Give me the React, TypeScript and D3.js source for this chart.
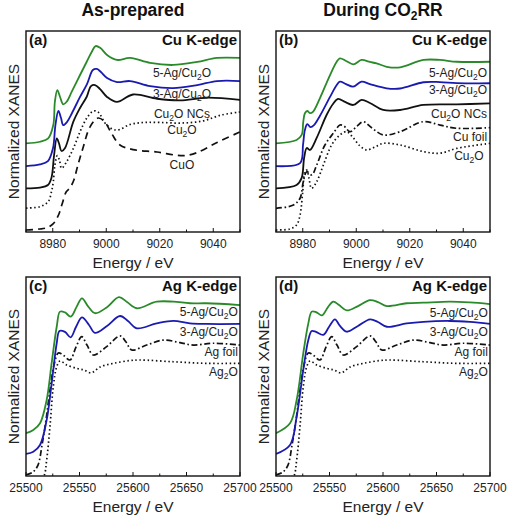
import React from "react";
import * as d3 from "d3";

type Pt = [number, number];

// ---------- tick values ----------
const cuMajorTicks = [8980, 9000, 9020, 9040];
const cuMinorTicks = [8970, 8990, 9010, 9030, 9050];
const agMajorTicks = [25500, 25550, 25600, 25650, 25700];
const agMinorTicks = [25525, 25575, 25625, 25675];
const cuDomain: Pt = [8970, 9050];
const agDomain: Pt = [25500, 25700];

// ---------- (a) As-prepared, Cu K-edge ----------
const a_5Ag: Pt[] = [
  [8970, 0.441], [8975.2, 0.449], [8978.3, 0.466], [8980.2, 0.532], [8980.8, 0.648],
  [8981.7, 0.706], [8982.7, 0.673], [8983.9, 0.635], [8985.2, 0.648], [8987.1, 0.698],
  [8990.2, 0.781], [8992.7, 0.847], [8994.6, 0.897], [8996, 0.925], [8997.7, 0.917],
  [9000.3, 0.881], [9004, 0.856], [9008.9, 0.866], [9016.4, 0.841], [9025, 0.831],
  [9034, 0.846], [9041.4, 0.866], [9050, 0.866],
];
const a_3Ag: Pt[] = [
  [8970, 0.328], [8975.2, 0.336], [8978.2, 0.353], [8980.1, 0.418], [8981, 0.532],
  [8982.1, 0.602], [8983.1, 0.567], [8983.9, 0.532], [8985.3, 0.547], [8987.2, 0.592],
  [8990.2, 0.672], [8992.8, 0.736], [8995, 0.806], [8996.5, 0.811], [8998, 0.796],
  [9000.3, 0.766], [9004, 0.746], [9008.9, 0.751], [9016.4, 0.726], [9025, 0.716],
  [9034, 0.731], [9041.4, 0.751], [9050, 0.751],
];
const a_NCs: Pt[] = [
  [8970, 0.217], [8975.2, 0.221], [8978.2, 0.234], [8979.5, 0.269], [8980.5, 0.383],
  [8981.5, 0.466], [8982.3, 0.443], [8983.3, 0.403], [8984.6, 0.418], [8987.7, 0.549],
  [8990.2, 0.617], [8992.7, 0.673], [8994.3, 0.726], [8995.8, 0.731], [8997.7, 0.711],
  [9000.3, 0.672], [9004, 0.647], [9010, 0.684], [9019, 0.663], [9027.6, 0.655],
  [9037.7, 0.668], [9050, 0.657],
];
const a_Cu2O: Pt[] = [
  [8970, 0.119], [8975.2, 0.126], [8978.3, 0.151], [8979.5, 0.199], [8980.2, 0.25],
  [8980.8, 0.333], [8981.7, 0.38], [8982.5, 0.358], [8983.3, 0.317], [8985.2, 0.35],
  [8987.7, 0.416], [8990.2, 0.499], [8992.7, 0.566], [8995.2, 0.602], [8996.9, 0.597],
  [9000.2, 0.532], [9003.9, 0.507], [9008.9, 0.535], [9014, 0.545], [9020, 0.545],
  [9028, 0.542], [9036, 0.552], [9043, 0.582], [9050, 0.597],
];
const a_CuO: Pt[] = [
  [8970, 0.01], [8975.2, 0.015], [8977.9, 0.022], [8980.1, 0.04], [8982, 0.08],
  [8983.5, 0.139], [8985, 0.199], [8986.4, 0.219], [8987.9, 0.259], [8989.4, 0.333],
  [8991.3, 0.418], [8993.9, 0.522], [8996.9, 0.567], [8999.2, 0.552], [9002.1, 0.488],
  [9005.1, 0.433], [9010, 0.41], [9019, 0.398], [9025.7, 0.383], [9029.4, 0.38],
  [9033.9, 0.395], [9041.4, 0.445], [9050, 0.498],
];

// ---------- (b) During CO2RR, Cu K-edge ----------
const b_5Ag: Pt[] = [
  [8970, 0.441], [8977.7, 0.458], [8979.6, 0.483], [8980.2, 0.549], [8980.8, 0.591],
  [8981.7, 0.602], [8982.7, 0.591], [8983.9, 0.599], [8986.4, 0.665], [8990.2, 0.781],
  [8992.7, 0.847], [8993.9, 0.864], [8996.2, 0.851], [8998.9, 0.834], [9002, 0.856],
  [9005.1, 0.846], [9007.6, 0.839], [9011.4, 0.822], [9016.4, 0.819], [9025.1, 0.856],
  [9031.3, 0.856], [9037.6, 0.847], [9050, 0.847],
];
const b_3Ag: Pt[] = [
  [8970, 0.328], [8979, 0.343], [8980.1, 0.433], [8980.8, 0.507], [8981.7, 0.537],
  [8982.9, 0.522], [8984.2, 0.532], [8986.4, 0.577], [8990.2, 0.672], [8992.7, 0.731],
  [8993.9, 0.748], [8996.2, 0.736], [8998.8, 0.723], [9002, 0.748], [9005.1, 0.736],
  [9011.4, 0.715], [9016.4, 0.714], [9025.1, 0.745], [9031.3, 0.746], [9037.6, 0.741],
  [9050, 0.74],
];
const b_NCs: Pt[] = [
  [8970, 0.217], [8977.7, 0.234], [8979.6, 0.269], [8980.5, 0.368], [8981.5, 0.418],
  [8982.7, 0.408], [8985.2, 0.468], [8988.9, 0.582], [8991.3, 0.637], [8993.2, 0.662],
  [8995.8, 0.647], [8998.9, 0.632], [9002, 0.657], [9005.1, 0.642], [9010.1, 0.607],
  [9016.4, 0.607], [9025.1, 0.632], [9037.6, 0.635], [9050, 0.64],
];
const b_CuFoil: Pt[] = [
  [8970, 0.118], [8976.5, 0.134], [8979, 0.168], [8980.2, 0.25], [8981.5, 0.3],
  [8983.4, 0.284], [8985.2, 0.333], [8988.3, 0.433], [8991.4, 0.491], [8993.9, 0.532],
  [8995.4, 0.527], [8997.7, 0.499], [9000.3, 0.527], [9002.6, 0.549], [9005.9, 0.517],
  [9010.1, 0.483], [9016.4, 0.499], [9025.1, 0.549], [9031.3, 0.532], [9037.6, 0.516],
  [9050, 0.519],
];
const b_Cu2O: Pt[] = [
  [8970, 0.01], [8975.2, 0.015], [8977.7, 0.035], [8979, 0.085], [8980, 0.2],
  [8980.8, 0.3], [8981.5, 0.308], [8982.3, 0.269], [8983.3, 0.217], [8985.2, 0.25],
  [8987.7, 0.333], [8990.8, 0.433], [8993.9, 0.483], [8996.4, 0.499], [8998.9, 0.468],
  [9001.4, 0.428], [9003.9, 0.408], [9007, 0.423], [9010.1, 0.441], [9016.4, 0.433],
  [9025.1, 0.4], [9031.3, 0.392], [9037.6, 0.416], [9050, 0.441],
];

// ---------- (c) As-prepared, Ag K-edge ----------
const c_5Ag: Pt[] = [
  [25500, 0.215], [25506.8, 0.231], [25513.1, 0.265], [25519.3, 0.382], [25524, 0.568],
  [25528.7, 0.75], [25531.8, 0.826], [25536.4, 0.822], [25541.8, 0.801], [25547.4, 0.851],
  [25552.3, 0.893], [25558.2, 0.851], [25564.5, 0.818], [25575.4, 0.847], [25586.9, 0.899],
  [25594.4, 0.874], [25603.5, 0.843], [25622.1, 0.876], [25637.7, 0.876], [25653.3, 0.868],
  [25668.9, 0.868], [25700, 0.859],
];
const c_3Ag: Pt[] = [
  [25500, 0.111], [25506.8, 0.122], [25513.1, 0.156], [25519.3, 0.281], [25524, 0.466],
  [25528.7, 0.667], [25531.3, 0.729], [25536.4, 0.724], [25541.8, 0.697], [25546.7, 0.749],
  [25552.3, 0.797], [25558.9, 0.759], [25564.5, 0.719], [25575.7, 0.754], [25587.9, 0.804],
  [25595.3, 0.779], [25603.5, 0.742], [25622.1, 0.767], [25637.7, 0.78], [25653.3, 0.767],
  [25668.9, 0.764], [25700, 0.764],
];
// reference spectra (shared by panels c and d)
const agFoil: Pt[] = [
  [25500, 0.005], [25506.5, 0.02], [25511.2, 0.055], [25515, 0.156], [25518.7, 0.281],
  [25522.4, 0.432], [25526.2, 0.558], [25530.2, 0.618], [25533.6, 0.613], [25541.1, 0.583],
  [25546.7, 0.648], [25552.1, 0.7], [25557, 0.658], [25562.9, 0.608], [25575.4, 0.65],
  [25587.9, 0.704], [25593.5, 0.673], [25598.8, 0.633], [25612.8, 0.658], [25628.3, 0.683],
  [25643.9, 0.67], [25656.4, 0.658], [25675, 0.667], [25700, 0.658],
];
const ag2O: Pt[] = [
  [25500, -0.025], [25513.1, -0.02], [25516.8, 0], [25519.3, 0.08], [25522.4, 0.248],
  [25525.5, 0.449], [25528.7, 0.549], [25531.8, 0.578], [25538, 0.558], [25547.4, 0.541],
  [25554.2, 0.533], [25560.7, 0.518], [25569.2, 0.548], [25581.6, 0.566], [25597.2, 0.58],
  [25606.5, 0.583], [25637.7, 0.574], [25668.9, 0.566], [25700, 0.566],
];

// ---------- (d) During CO2RR, Ag K-edge ----------
const d_5Ag: Pt[] = [
  [25500, 0.215], [25513.1, 0.265], [25519.3, 0.382], [25525.5, 0.617], [25530.2, 0.767],
  [25533.4, 0.826], [25537.4, 0.824], [25543, 0.807], [25548.6, 0.849], [25553.6, 0.876],
  [25558.9, 0.859], [25566.1, 0.832], [25576.6, 0.854], [25587.9, 0.884], [25595.3, 0.874],
  [25603.5, 0.854], [25622.1, 0.868], [25637.7, 0.871], [25662.6, 0.876], [25681.3, 0.872],
  [25700, 0.864],
];
const d_3Ag: Pt[] = [
  [25500, 0.111], [25513.1, 0.156], [25519.3, 0.298], [25525.5, 0.533], [25530.2, 0.683],
  [25533.4, 0.729], [25537.4, 0.724], [25544.2, 0.709], [25549.5, 0.749], [25555.1, 0.787],
  [25559.8, 0.754], [25566.1, 0.725], [25576.6, 0.754], [25587.9, 0.787], [25595.3, 0.774],
  [25603.5, 0.75], [25622.1, 0.767], [25637.7, 0.775], [25662.6, 0.779], [25681.3, 0.774],
  [25700, 0.764],
];

// ---------- curve labels: [energy, value, text] ----------
type Lab = [number, number, string];
const a_labels: Lab[] = [
  [9028.3, 0.771, "5-Ag/Cu_2O"], [9028.3, 0.665, "3-Ag/Cu_2O"], [9028.3, 0.567, "Cu_2O NCs"],
  [9028.3, 0.488, "Cu_2O"], [9028.3, 0.313, "CuO"],
];
const b_labels: Lab[] = [
  [9048.9, 0.771, "5-Ag/Cu_2O"], [9048.9, 0.689, "3-Ag/Cu_2O"], [9048.9, 0.569, "Cu_2O NCs"],
  [9048.9, 0.453, "Cu foil"], [9047.6, 0.36, "Cu_2O"],
];
const c_labels: Lab[] = [
  [25698, 0.804, "5-Ag/Cu_2O"], [25698, 0.702, "3-Ag/Cu_2O"], [25698, 0.602, "Ag foil"],
  [25698, 0.503, "Ag_2O"],
];
const d_labels: Lab[] = [
  [25698, 0.799, "5-Ag/Cu_2O"], [25698, 0.702, "3-Ag/Cu_2O"], [25698, 0.602, "Ag foil"],
  [25698, 0.503, "Ag_2O"],
];

const GREEN = "#2a8a2a";
const BLUE = "#1a1ab0";
const FONT = "'Liberation Sans', Arial, sans-serif";

type Style = { stroke: string; dash?: string; width: number };
const S_GREEN: Style = { stroke: GREEN, width: 1.8 };
const S_BLUE: Style = { stroke: BLUE, width: 1.8 };
const S_BLACK: Style = { stroke: "#111", width: 1.8 };
const S_DOT: Style = { stroke: "#111", dash: "1.5,2.6", width: 1.7 };
const S_DASH: Style = { stroke: "#111", dash: "7,5", width: 1.7 };
const S_DASHDOT: Style = { stroke: "#111", dash: "6,2.6,1.6,2.6", width: 1.7 };

type Panel = {
  id: string;
  x: number; y: number; w: number; h: number;
  domain: Pt;
  major: number[]; minor: number[];
  tag: string; edge: string;
  series: { data: Pt[]; style: Style }[];
  labels: Lab[];
  labelAnchor: "middle" | "end";
};

const panels: Panel[] = [
  {
    id: "a", x: 26, y: 31, w: 214, h: 201, domain: cuDomain, major: cuMajorTicks, minor: cuMinorTicks,
    tag: "(a)", edge: "Cu K-edge",
    series: [
      { data: a_CuO, style: S_DASH }, { data: a_Cu2O, style: S_DOT }, { data: a_NCs, style: S_BLACK },
      { data: a_3Ag, style: S_BLUE }, { data: a_5Ag, style: S_GREEN },
    ],
    labels: a_labels, labelAnchor: "middle",
  },
  {
    id: "b", x: 276, y: 31, w: 214, h: 201, domain: cuDomain, major: cuMajorTicks, minor: cuMinorTicks,
    tag: "(b)", edge: "Cu K-edge",
    series: [
      { data: b_Cu2O, style: S_DOT }, { data: b_CuFoil, style: S_DASHDOT }, { data: b_NCs, style: S_BLACK },
      { data: b_3Ag, style: S_BLUE }, { data: b_5Ag, style: S_GREEN },
    ],
    labels: b_labels, labelAnchor: "end",
  },
  {
    id: "c", x: 26, y: 277, w: 214, h: 199, domain: agDomain, major: agMajorTicks, minor: agMinorTicks,
    tag: "(c)", edge: "Ag K-edge",
    series: [
      { data: ag2O, style: S_DOT }, { data: agFoil, style: S_DASHDOT },
      { data: c_3Ag, style: S_BLUE }, { data: c_5Ag, style: S_GREEN },
    ],
    labels: c_labels, labelAnchor: "end",
  },
  {
    id: "d", x: 276, y: 277, w: 214, h: 199, domain: agDomain, major: agMajorTicks, minor: agMinorTicks,
    tag: "(d)", edge: "Ag K-edge",
    series: [
      { data: ag2O, style: S_DOT }, { data: agFoil, style: S_DASHDOT },
      { data: d_3Ag, style: S_BLUE }, { data: d_5Ag, style: S_GREEN },
    ],
    labels: d_labels, labelAnchor: "end",
  },
];

function SubText({ text, subSize }: { text: string; subSize: number }) {
  const parts = text.split(/_(\d)/);
  const out: React.ReactNode[] = [];
  let shifted = false;
  parts.forEach((p, i) => {
    if (i % 2 === 1) {
      out.push(<tspan key={i} fontSize={subSize} dy={3}>{p}</tspan>);
      shifted = true;
    } else if (p.length) {
      out.push(<tspan key={i} dy={shifted ? -3 : 0}>{p}</tspan>);
      shifted = false;
    }
  });
  return <>{out}</>;
}

function PanelView({ p }: { p: Panel }) {
  const x = d3.scaleLinear().domain(p.domain).range([p.x, p.x + p.w]);
  const y = d3.scaleLinear().domain([0, 1]).range([p.y + p.h, p.y]);
  const line = d3.line<Pt>().x((d) => x(d[0])).y((d) => y(d[1])).curve(d3.curveCatmullRom.alpha(0.5));
  const bottom = p.y + p.h;
  const cx = p.x + p.w / 2;
  return (
    <g>
      <defs>
        <clipPath id={"clip-" + p.id}>
          <rect x={p.x} y={p.y} width={p.w} height={p.h} />
        </clipPath>
      </defs>
      <g clipPath={`url(#clip-${p.id})`}>
        {p.series.map((s, i) => (
          <path key={i} d={line(s.data) || ""} fill="none" stroke={s.style.stroke}
            strokeWidth={s.style.width} strokeDasharray={s.style.dash} strokeLinejoin="round" />
        ))}
      </g>
      {p.labels.map((l, i) => (
        <text key={i} x={x(l[0])} y={y(l[1])} textAnchor={p.labelAnchor} fontSize={12}
          fontFamily={FONT} fill="#222">
          <SubText text={l[2]} subSize={8.5} />
        </text>
      ))}
      {p.major.map((t) => (
        <g key={"M" + t}>
          <line x1={x(t)} x2={x(t)} y1={bottom} y2={bottom - 4} stroke="#111" strokeWidth={1} />
          <text x={x(t)} y={bottom + 15.5} textAnchor="middle" fontSize={12} fontFamily={FONT} fill="#222">{t}</text>
        </g>
      ))}
      {p.minor.map((t) => (
        <line key={"m" + t} x1={x(t)} x2={x(t)} y1={bottom} y2={bottom - 2.5} stroke="#111" strokeWidth={1} />
      ))}
      <rect x={p.x} y={p.y} width={p.w} height={p.h} fill="none" stroke="#111" strokeWidth={1.4} />
      <text x={p.x + 3} y={p.y + 13.5} fontSize={15} fontWeight="bold" fontFamily={FONT} fill="#111">{p.tag}</text>
      <text x={p.x + p.w - 3} y={p.y + 13.5} fontSize={15} fontWeight="bold" fontFamily={FONT} fill="#111" textAnchor="end">{p.edge}</text>
      <text x={cx} y={bottom + 36} textAnchor="middle" fontSize={15.5} fontFamily={FONT} fill="#222">Energy / eV</text>
      <text transform={`translate(${p.x - 7},${p.y + p.h / 2}) rotate(-90)`} textAnchor="middle"
        fontSize={15.5} fontFamily={FONT} fill="#222">Normalized XANES</text>
    </g>
  );
}

export default function App() {
  return (
    <svg width={512} height={519} viewBox="0 0 512 519"
      style={{ position: "absolute", left: 0, top: 0, background: "#fff" }}>
      <rect x={0} y={0} width={512} height={519} fill="#fff" />
      <text x={133} y={16} textAnchor="middle" fontSize={17.5} fontWeight="bold" fontFamily={FONT} fill="#111">As-prepared</text>
      <text x={383} y={16} textAnchor="middle" fontSize={17.5} fontWeight="bold" fontFamily={FONT} fill="#111">
        During CO<tspan fontSize={12} dy={4}>2</tspan><tspan dy={-4}>RR</tspan>
      </text>
      {panels.map((p) => <PanelView key={p.id} p={p} />)}
    </svg>
  );
}
